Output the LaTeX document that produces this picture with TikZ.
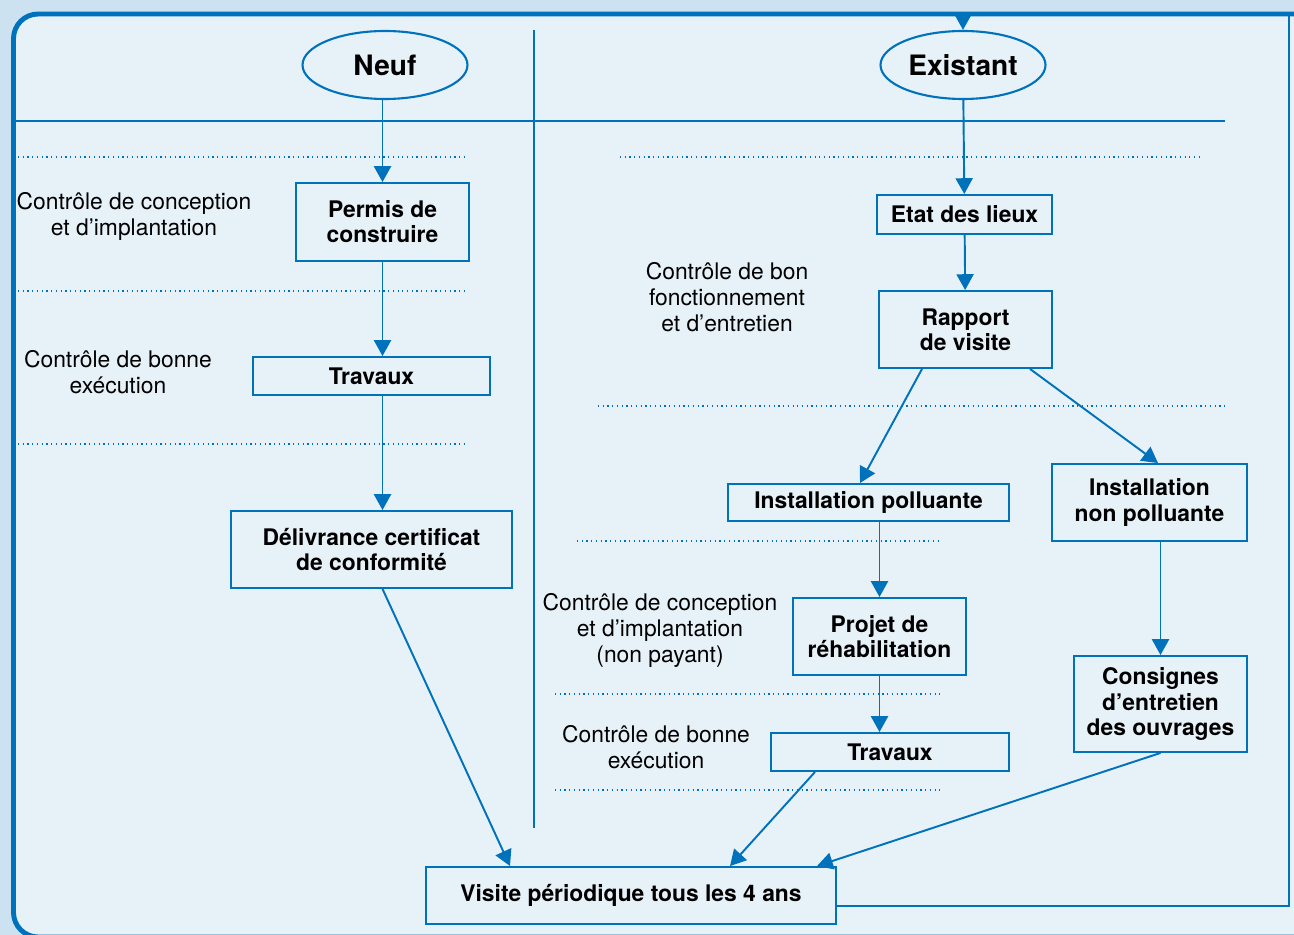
\documentclass[tikz,border=0pt]{standalone}
\usepackage{fontspec}
\setmainfont{TeX Gyre Heros}
\usetikzlibrary{shapes.geometric,arrows.meta}
\definecolor{bleu}{RGB}{0,114,187}
\definecolor{fond}{RGB}{230,241,248}
\definecolor{marge}{RGB}{204,226,240}

\begin{document}
\begin{tikzpicture}[x=0.02cm, y=-0.02cm,
    every node/.style={font=\fontsize{13}{14.8}\selectfont},
    note/.style={align=center},
    cas/.style={ellipse, draw=bleu, line width=1.2pt, fill=fond, minimum width=3.3cm,
      minimum height=1.36cm, inner sep=0pt, font=\fontsize{16}{18}\selectfont\bfseries},
    etape/.style={draw=bleu, line width=1.1pt, fill=fond, align=center, inner sep=0pt,
      font=\fontsize{13}{14.3}\selectfont\bfseries},
    fleche/.style={->, >={Triangle[length=9pt,width=9.7pt]}, draw=bleu, line width=1.1pt},
    trait/.style={draw=bleu, line width=1.1pt},
    pointille/.style={draw=bleu, dotted, line width=0.7pt}]
    \useasboundingbox (0,0) rectangle (1294,935);
    \clip (0,0) rectangle (1294,935);
    \fill[marge] (0,0) rectangle (1294,935);
    \draw[draw=bleu, fill=fond, line width=2.8pt, rounded corners=14pt] (13.5,14) rectangle (1340,937);

    % separations
    \draw[trait] (534,30) -- (534,828);
    \draw[trait] (13,121) -- (1225,121);
    \draw[pointille] (18,157) -- (468,157);
    \draw[pointille] (620,157) -- (1203,157);
    \draw[pointille] (18,291) -- (468,291);
    \draw[pointille] (18,444) -- (468,444);
    \draw[pointille] (598,406) -- (1225,406);
    \draw[pointille] (577,541) -- (942,541);
    \draw[pointille] (555,694) -- (942,694);
    \draw[pointille] (555,790) -- (942,790);

    % controles
    \node[note] (l_0) at (134,216) {Contrôle de conception\\et d'implantation};
    \node[note] (l_1) at (118,372) {Contrôle de bonne\\exécution};
    \node[note] (l_2) at (727,297) {Contrôle de bon\\fonctionnement\\et d'entretien};
    \node[note] (l_3) at (660,630) {Contrôle de conception\\et d'implantation\\(non payant)};
    \node[note] (l_4) at (656,747) {Contrôle de bonne\\exécution};

    % neuf
    \node[cas] (n_0) at (385,65) {Neuf};
    \node[etape, minimum width=3.46cm, minimum height=1.56cm] (n_1) at (382.5,222) {Permis de\\construire};
    \node[etape, minimum width=4.74cm, minimum height=0.76cm] (n_2) at (371.5,376) {Travaux};
    \node[etape, minimum width=5.62cm, minimum height=1.54cm] (n_3) at (371.5,549.5) {Délivrance certificat\\de conformité};

    % existant
    \node[cas] (e_0) at (963,65) {Existant};
    \node[etape, minimum width=3.5cm, minimum height=0.78cm] (e_1) at (964.5,214.5) {Etat des lieux};
    \node[etape, minimum width=3.46cm, minimum height=1.54cm] (e_2) at (965.5,329.5) {Rapport\\de visite};
    \node[etape, minimum width=5.62cm, minimum height=0.74cm] (e_3) at (868.5,502.5) {Installation polluante};
    \node[etape, minimum width=3.9cm, minimum height=1.54cm] (e_4) at (1149.5,502.5) {Installation\\non polluante};
    \node[etape, minimum width=3.46cm, minimum height=1.54cm] (e_5) at (879.5,636.5) {Projet de\\réhabilitation};
    \node[etape, minimum width=4.76cm, minimum height=0.76cm] (e_6) at (890,752) {Travaux};
    \node[etape, minimum width=3.46cm, minimum height=1.92cm] (e_7) at (1160.5,704) {Consignes\\d'entretien\\des ouvrages};

    \node[etape, minimum width=8.2cm, minimum height=1.14cm] (v_0) at (631,895.5) {Visite périodique tous les 4 ans};
    \coordinate (c_0) at (1289,14);

    \draw[fleche] (n_1 |- n_0.south) -- (n_1.north);
    \draw[fleche] (n_1.south) -- (n_1 |- n_2.north);
    \draw[fleche] (n_1 |- n_2.south) -- (n_1 |- n_3.north);
    \draw[fleche] (n_1 |- n_3.south) -- (v_0.north -| 510,0);
    \draw[fleche] (e_0) -- (e_1);
    \draw[fleche] (e_1) -- (e_2);
    \draw[fleche] (e_2.south -| 922,0) -- (e_3.north -| 860,0);
    \draw[fleche] (e_2.south -| 1030,0) -- (e_4.north -| 1158,0);
    \draw[fleche] (e_5 |- e_3.south) -- (e_5.north);
    \draw[fleche] (e_5.south) -- (e_5 |- e_6.north);
    \draw[fleche] (e_7 |- e_4.south) -- (e_7.north);
    \draw[fleche] (e_6.south -| 815,0) -- (v_0.north -| 730,0);
    \draw[fleche] (e_7.south) -- (v_0.north -| 817,0);
    \draw[fleche] ([yshift=-6pt]v_0.east) -| (c_0) -| (e_0.north);
  \end{tikzpicture}
\end{document}
